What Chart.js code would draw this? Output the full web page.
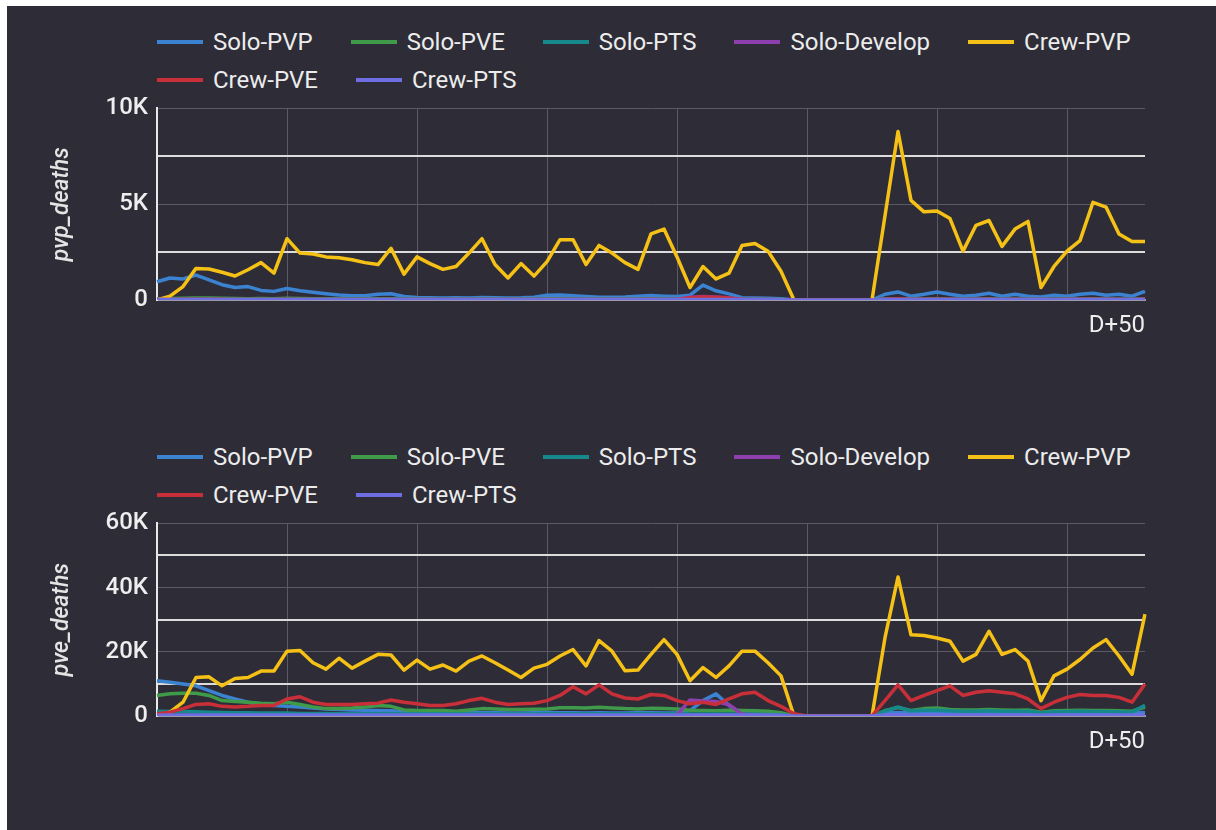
<!DOCTYPE html>
<html>
<head>
<meta charset="utf-8">
<script src="https://cdn.jsdelivr.net/npm/chart.js@4"></script>
<style>
  html, body { margin: 0; padding: 0; background: #ffffff; }
  body { width: 1216px; height: 830px; position: relative; overflow: hidden; font-family: Roboto, sans-serif; }
  #panel { position: absolute; left: 7px; top: 6px; right: 0; bottom: 0; background: #2e2d37; }
  .legend { position: absolute; left: 157px; width: 1050px; display: flex; flex-wrap: wrap; color: #ececec; font-size: 24px; font-weight: 400; }
  .legend .item { display: flex; align-items: center; height: 38px; margin-right: 38px; }
  .legend .swatch { width: 46px; height: 4px; margin-right: 10px; }
  .chart-box { position: absolute; left: 0; width: 1216px; }
  canvas { display: block; }
</style>
</head>
<body>
<div id="panel"></div>
<div class="legend" id="pvpLegend" style="top:23px"></div>
<div class="chart-box" style="top:85px"><canvas id="pvpChart" width="1216" height="270"></canvas></div>
<div class="legend" id="pveLegend" style="top:438px"></div>
<div class="chart-box" style="top:500px"><canvas id="pveChart" width="1216" height="280"></canvas></div>
<script>
const seriesNames = ['Solo-PVP', 'Solo-PVE', 'Solo-PTS', 'Solo-Develop', 'Crew-PVP', 'Crew-PVE', 'Crew-PTS'];
const seriesColors = ['#3b83d1', '#3f9b4a', '#16898c', '#8e3fae', '#f5c116', '#c92f38', '#6e6ee2'];
// day offsets, only the last one is shown on the axis
const dayLabels = Array.from({ length: 77 }, (_, i) => 'D' + (i >= 26 ? '+' : '') + (i - 26));

// pvp_deaths
const pvpSoloPvp = [
  950, 1150, 1100, 1300, 1050, 800, 650, 700, 500, 450,
  600, 480, 400, 330, 260, 220, 220, 300, 330, 180,
  130, 120, 110, 120, 100, 130, 120, 110, 120, 150,
  250, 260, 220, 180, 150, 140, 160, 200, 230, 200,
  180, 250, 780, 480, 320, 120, 100, 90, 70, 0,
  0, 0, 0, 0, 0, 0, 300, 420, 200, 300,
  420, 300, 200, 250, 350, 200, 300, 200, 160, 250,
  200, 300, 350, 250, 300, 200, 450
];
const pvpSoloPve = [
  60, 80, 90, 110, 100, 90, 80, 70, 80, 70,
  90, 80, 70, 60, 60, 50, 60, 70, 60, 50,
  50, 40, 40, 50, 40, 50, 40, 40, 50, 50,
  60, 60, 50, 40, 50, 40, 40, 50, 60, 50,
  40, 60, 90, 80, 60, 40, 30, 30, 20, 0,
  0, 0, 0, 0, 0, 0, 50, 70, 60, 50,
  60, 50, 40, 50, 60, 40, 50, 40, 30, 40,
  50, 50, 60, 50, 40, 40, 60
];
const pvpSoloPts = [
  30, 40, 40, 50, 40, 40, 30, 30, 30, 30,
  40, 30, 30, 30, 20, 20, 30, 30, 30, 20,
  20, 20, 20, 20, 20, 20, 20, 20, 20, 20,
  30, 30, 20, 20, 20, 20, 20, 20, 30, 20,
  20, 30, 40, 30, 30, 20, 20, 20, 10, 0,
  0, 0, 0, 0, 0, 0, 30, 40, 30, 30,
  30, 30, 20, 30, 30, 20, 30, 20, 20, 20,
  30, 30, 30, 30, 20, 20, 40
];
const pvpSoloDevelop = [
  10, 10, 10, 10, 10, 10, 10, 10, 10, 10,
  10, 10, 10, 10, 10, 10, 10, 10, 10, 10,
  10, 10, 10, 10, 10, 10, 10, 10, 10, 10,
  10, 10, 10, 10, 10, 10, 10, 10, 10, 10,
  20, 150, 180, 160, 120, 20, 10, 10, 10, 0,
  0, 0, 0, 0, 0, 0, 10, 10, 10, 10,
  10, 10, 10, 10, 10, 10, 10, 10, 10, 10,
  10, 10, 10, 10, 10, 10, 10
];
const pvpCrewPvp = [
  0, 200, 700, 1650, 1620, 1450, 1250, 1580, 1950, 1400,
  3200, 2450, 2400, 2250, 2200, 2100, 1950, 1850, 2700, 1350,
  2250, 1900, 1600, 1750, 2450, 3200, 1850, 1150, 1900, 1250,
  2000, 3150, 3150, 1850, 2850, 2450, 1950, 1600, 3450, 3700,
  2250, 650, 1750, 1100, 1400, 2850, 2950, 2550, 1500, 0,
  0, 0, 0, 0, 0, 0, 4400, 8800, 5200, 4600,
  4650, 4250, 2550, 3900, 4150, 2800, 3700, 4100, 650, 1750,
  2550, 3100, 5100, 4850, 3450, 3050, 3050
];
const pvpCrewPve = [
  20, 30, 40, 40, 40, 40, 30, 30, 30, 30,
  40, 30, 30, 30, 30, 30, 30, 30, 30, 30,
  30, 30, 30, 30, 30, 30, 30, 30, 30, 30,
  30, 30, 30, 30, 30, 30, 30, 30, 40, 30,
  30, 120, 160, 140, 110, 30, 20, 20, 10, 0,
  0, 0, 0, 0, 0, 0, 40, 60, 40, 40,
  40, 40, 30, 40, 40, 30, 40, 30, 20, 30,
  40, 40, 40, 40, 30, 30, 50
];
const pvpCrewPts = [
  20, 20, 30, 30, 30, 30, 20, 20, 20, 20,
  30, 20, 20, 20, 20, 20, 20, 20, 20, 20,
  20, 20, 20, 20, 20, 20, 20, 20, 20, 20,
  20, 20, 20, 20, 20, 20, 20, 20, 20, 20,
  20, 30, 30, 30, 20, 20, 20, 20, 10, 0,
  0, 0, 0, 0, 0, 0, 30, 30, 30, 30,
  30, 30, 20, 30, 30, 20, 30, 20, 20, 20,
  30, 30, 30, 30, 20, 20, 30
];

// pve_deaths
const pveSoloPvp = [
  11000, 10500, 10000, 9400, 7900, 6400, 5300, 4300, 3600, 3300,
  3000, 2800, 2500, 2200, 2000, 1900, 1800, 1700, 1600, 1400,
  1300, 1200, 1200, 1100, 1100, 1000, 1000, 900, 900, 1000,
  1100, 1000, 1000, 900, 1000, 900, 900, 1000, 1000, 900,
  1000, 1700, 4800, 6900, 3300, 700, 600, 600, 500, 0,
  0, 0, 0, 0, 0, 0, 900, 1100, 900, 1000,
  1000, 900, 900, 1000, 1000, 900, 1000, 900, 800, 900,
  900, 1000, 1000, 900, 1000, 900, 1100
];
const pveSoloPve = [
  6400, 6900, 7100, 7100, 6400, 4800, 4500, 4300, 4000, 3800,
  4300, 3600, 2800, 2300, 2300, 2500, 2800, 3300, 3000, 1900,
  1700, 1700, 1700, 1500, 1900, 2300, 2200, 2000, 2000, 2100,
  2200, 2600, 2600, 2500, 2700, 2500, 2300, 2200, 2400, 2300,
  2200, 1800, 1700, 1600, 1800, 1700, 1600, 1500, 1000, 0,
  0, 0, 0, 0, 0, 0, 1700, 2600, 1700, 2300,
  2500, 2000, 1900, 1900, 2000, 1900, 1800, 1900, 1200, 1600,
  1700, 1800, 1700, 1700, 1600, 1500, 2800
];
const pveSoloPts = [
  1500, 1400, 1400, 1300, 1200, 1100, 1000, 1000, 900, 900,
  900, 800, 800, 800, 700, 700, 700, 700, 700, 600,
  600, 600, 600, 600, 600, 600, 600, 600, 600, 600,
  700, 700, 700, 700, 700, 700, 700, 700, 700, 700,
  700, 600, 600, 600, 600, 600, 500, 500, 400, 0,
  0, 0, 0, 0, 0, 0, 1500, 2800, 1600, 1800,
  1800, 1600, 1500, 1500, 1600, 1500, 1500, 1500, 1000, 1300,
  1400, 1500, 1400, 1400, 1300, 1200, 3300
];
const pveSoloDevelop = [
  50, 50, 50, 50, 50, 50, 50, 50, 50, 50,
  50, 50, 50, 50, 50, 50, 50, 50, 50, 50,
  50, 50, 50, 50, 50, 50, 50, 50, 50, 50,
  50, 50, 50, 50, 50, 50, 50, 50, 50, 50,
  300, 5000, 4700, 4500, 3500, 600, 50, 50, 50, 0,
  0, 0, 0, 0, 0, 0, 50, 50, 50, 50,
  50, 50, 50, 50, 50, 50, 50, 50, 50, 50,
  50, 50, 50, 50, 50, 50, 50
];
const pveCrewPvp = [
  0, 1200, 4300, 12000, 12200, 9400, 11700, 12000, 14000, 14000,
  20200, 20400, 16600, 14600, 18000, 14900, 17100, 19200, 19000, 14300,
  17400, 14600, 15900, 14000, 17100, 18700, 16600, 14300, 12000, 14900,
  16100, 18700, 20700, 15600, 23500, 20200, 14100, 14300, 19200, 23800,
  19200, 11000, 15100, 12000, 15600, 20200, 20200, 16600, 12500, 0,
  0, 0, 0, 0, 0, 0, 24400, 43300, 25300, 25100,
  24300, 23300, 17100, 19200, 26400, 19200, 20700, 17100, 4800, 12500,
  14600, 17600, 21200, 23800, 18700, 13000, 31700
];
const pveCrewPve = [
  700, 1200, 2300, 3600, 3800, 3000, 2800, 3000, 3300, 3300,
  5300, 6000, 4300, 3600, 3600, 3600, 3800, 4000, 5000, 4300,
  3800, 3300, 3300, 3800, 4800, 5500, 4300, 3600, 3800, 4000,
  4800, 6400, 9100, 6900, 9700, 6900, 5600, 5300, 6700, 6400,
  4800, 3800, 4300, 3600, 5300, 6900, 7400, 4800, 3000, 700,
  0, 0, 0, 0, 0, 0, 4800, 9700, 4800, 6400,
  7900, 9400, 6400, 7400, 7900, 7400, 6900, 5300, 2300, 4300,
  5800, 6700, 6400, 6400, 5800, 4300, 10000
];
const pveCrewPts = [
  200, 300, 300, 300, 300, 300, 300, 300, 300, 300,
  300, 300, 300, 300, 300, 300, 300, 300, 300, 300,
  300, 300, 300, 300, 300, 300, 300, 300, 300, 300,
  300, 300, 300, 300, 300, 300, 300, 300, 300, 300,
  300, 300, 300, 300, 300, 300, 300, 300, 200, 0,
  0, 0, 0, 0, 0, 0, 300, 400, 300, 300,
  300, 300, 300, 300, 300, 300, 300, 300, 200, 300,
  300, 300, 300, 300, 300, 300, 400
];

Chart.defaults.font.family = 'Roboto, sans-serif';

function buildLegend(id) {
  const box = document.getElementById(id);
  seriesNames.forEach((name, i) => {
    const item = document.createElement('div');
    item.className = 'item';
    const swatch = document.createElement('span');
    swatch.className = 'swatch';
    swatch.style.background = seriesColors[i];
    const text = document.createElement('span');
    text.textContent = name;
    item.appendChild(swatch);
    item.appendChild(text);
    box.appendChild(item);
  });
}

function makeChart(canvasId, seriesData, yMax, yStep, labelEvery, title, padTop, xHeight) {
  return new Chart(document.getElementById(canvasId), {
    type: 'line',
    data: {
      labels: dayLabels,
      datasets: seriesData.map((data, i) => ({
        label: seriesNames[i],
        data: data,
        borderColor: seriesColors[i],
        backgroundColor: seriesColors[i],
        borderWidth: 3.5,
        borderJoinStyle: 'round',
        pointRadius: 0,
        tension: 0,
        order: seriesNames.length - i
      }))
    },
    options: {
      responsive: false,
      animation: false,
      layout: { padding: { top: padTop, right: 71, bottom: 0, left: 0 } },
      plugins: { legend: { display: false }, tooltip: { enabled: false } },
      scales: {
        x: {
          afterFit: (s) => { s.height = xHeight; },
          grid: {
            drawTicks: false,
            lineWidth: 1,
            color: (c) => (c.index % 10 === 0 && c.index > 0 && c.index < 76) ? '#5a5964' : 'transparent'
          },
          border: { display: true, color: '#9c9aa8', width: 2 },
          ticks: {
            autoSkip: false, maxRotation: 0, minRotation: 0, align: 'inner', padding: 12,
            color: '#eeeeee', font: { size: 24 },
            callback: function (v, i, t) { return i === t.length - 1 ? this.getLabelForValue(v) : ''; }
          }
        },
        y: {
          min: 0,
          max: yMax,
          afterFit: (s) => { s.width = 157; },
          title: {
            display: true, text: title, color: '#e4e4e4',
            font: { size: 23, style: 'italic', weight: '500' }, padding: { top: 48, bottom: 0 }
          },
          grid: {
            drawTicks: false,
            color: (c) => c.tick.value === 0 ? 'transparent' : (c.tick.value % labelEvery === 0 ? '#5a5964' : '#dcdcdc'),
            lineWidth: (c) => c.tick.value % labelEvery === 0 ? 1 : 2
          },
          border: { display: true, color: '#e8e8e8', width: 2 },
          ticks: {
            stepSize: yStep, padding: 9, color: '#eeeeee', font: { size: 24, weight: '500' },
            callback: (v) => v % labelEvery === 0 ? (v === 0 ? '0' : v / 1000 + 'K') : ''
          }
        }
      }
    }
  });
}

buildLegend('pvpLegend');
buildLegend('pveLegend');

makeChart('pvpChart',
  [pvpSoloPvp, pvpSoloPve, pvpSoloPts, pvpSoloDevelop, pvpCrewPvp, pvpCrewPve, pvpCrewPts],
  10000, 2500, 5000, 'pvp_deaths', 22, 55);

makeChart('pveChart',
  [pveSoloPvp, pveSoloPve, pveSoloPts, pveSoloDevelop, pveCrewPvp, pveCrewPve, pveCrewPts],
  60000, 10000, 20000, 'pve_deaths', 21, 64);
</script>
</body>
</html>
